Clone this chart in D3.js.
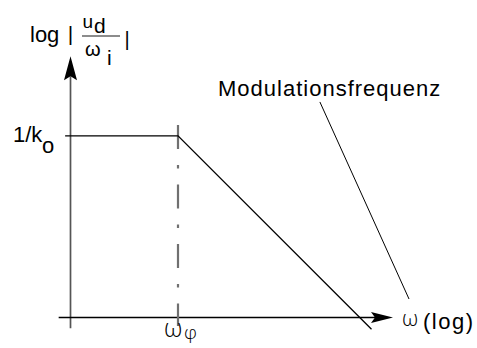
<!DOCTYPE html>
<html>
<head>
<meta charset="utf-8">
<script src="https://cdn.jsdelivr.net/npm/d3@7"></script>
<style>
  html, body { margin: 0; padding: 0; background: #fff; }
  svg { display: block; }
  text { font-family: "Liberation Sans", Arial, sans-serif; fill: #000; }
  .thin { font-family: "Open Sans", "DejaVu Sans", sans-serif; font-weight: 300; }
</style>
</head>
<body>
<script>
// Asymptotic amplitude response of the loop (log-log axes, arbitrary decades)
const curveLogW   = [-0.05, 1.0, 2.80];   // log ω at the curve's corners
const curveLogMag = [1.69, 1.69, -0.11];  // log |u_d / ω_i| at those corners
const cornerLogW  = 1.0;                  // ω_φ, the corner frequency
const levelLogMag = 1.69;                 // 1/k_o, the low-frequency plateau
const xAxisSpan   = [-0.11, 3.0];         // extent of the ω axis
const yAxisSpan   = [-0.10, 2.43];        // extent of the magnitude axis
const cornerSpan  = [1.79, -0.08];        // dash-dot marker at ω_φ
const leaderFrom  = [2.32, 2.005];        // annotation leader: text end
const leaderTo    = [3.149, 0.172];       // annotation leader: near the ω label
const labels = {
  level: ["1/k", "o"],
  corner: ["ω", "φ"],
  xName: ["ω", "(log)"],
  note: "Modulationsfrequenz"
};

const W = 477, H = 348;
const svg = d3.select("body").append("svg").attr("width", W).attr("height", H);
// grayscale antialiasing for the thin glyphs
const root = svg.append("g").attr("opacity", 0.999);

// Same pixel length per decade on both axes, so a -1 slope draws at 45°
const unit = 107.5;
const x = d3.scaleLinear().domain([0, 1]).range([70.5, 70.5 + unit]);
const y = d3.scaleLinear().domain([0, 1]).range([317.5, 317.5 - unit]);

// Axes
root.append("line")
  .attr("x1", x(0)).attr("x2", x(0))
  .attr("y1", y(yAxisSpan[0])).attr("y2", y(yAxisSpan[1]) + 20)
  .attr("stroke", "#555").attr("stroke-width", 1.7);
root.append("line")
  .attr("x1", x(xAxisSpan[0])).attr("x2", x(xAxisSpan[1]) - 18)
  .attr("y1", y(0)).attr("y2", y(0))
  .attr("stroke", "#000").attr("stroke-width", 1.4);

// Arrowheads
function arrow(tx, ty, dx, dy, len, half, notch) {
  const px = -dy, py = dx;
  const bx = tx - dx * len, by = ty - dy * len;
  const nx = tx - dx * (len - notch), ny = ty - dy * (len - notch);
  return `M${tx},${ty}L${bx + px * half},${by + py * half}L${nx},${ny}L${bx - px * half},${by - py * half}Z`;
}
root.append("path").attr("d", arrow(x(0), y(yAxisSpan[1]), 0, -1, 24, 6.5, 4)).attr("fill", "#000");
root.append("path").attr("d", arrow(x(xAxisSpan[1]), y(0), 1, 0, 22, 5.5, 4)).attr("fill", "#000");

// Dash-dot marker at the corner frequency
root.append("line")
  .attr("x1", x(cornerLogW)).attr("x2", x(cornerLogW))
  .attr("y1", y(cornerSpan[0])).attr("y2", y(cornerSpan[1]))
  .attr("stroke", "#707070").attr("stroke-width", 2.2)
  .attr("stroke-dasharray", "24 16 3.5 16");

// Amplitude response
const pts = curveLogW.map((w, i) => [w, curveLogMag[i]]);
root.append("path")
  .attr("d", d3.line().x(d => x(d[0])).y(d => y(d[1]))(pts))
  .attr("fill", "none").attr("stroke", "#000").attr("stroke-width", 1.3);

// Annotation leader
root.append("line")
  .attr("x1", x(leaderFrom[0])).attr("y1", y(leaderFrom[1]))
  .attr("x2", x(leaderTo[0])).attr("y2", y(leaderTo[1]))
  .attr("stroke", "#000").attr("stroke-width", 1);

// Y axis title: log | u_d / ω_i |
const yt = root.append("g");
yt.append("text").attr("x", 30).attr("y", 42).attr("font-size", 22).text("log");
yt.append("text").attr("x", x(0)).attr("y", 41).attr("font-size", 21).attr("text-anchor", "middle").text("|");
yt.append("text").attr("x", 82.5).attr("y", 28).attr("font-size", 19).text("u");
yt.append("text").attr("x", 94).attr("y", 32.5).attr("font-size", 21).text("d");
yt.append("line").attr("x1", 82).attr("x2", 120).attr("y1", 36).attr("y2", 36)
  .attr("stroke", "#666").attr("stroke-width", 1.5);
yt.append("text").attr("x", 85).attr("y", 56).attr("font-size", 20).attr("fill", "#222").text("ω");
yt.append("text").attr("x", 107).attr("y", 65).attr("font-size", 21).text("i");
yt.append("text").attr("x", 127).attr("y", 46).attr("font-size", 20).attr("text-anchor", "middle").text("|");

// Plateau label 1/k_o
const lv = root.append("g");
lv.append("text").attr("x", 13).attr("y", y(levelLogMag) + 6).attr("font-size", 22).text(labels.level[0]);
lv.append("text").attr("x", 42).attr("y", y(levelLogMag) + 17).attr("font-size", 22).text(labels.level[1]);

// Corner frequency label ω_φ
root.append("text").attr("class", "thin").attr("x", x(cornerLogW) - 14).attr("y", 337).attr("font-size", 25).text(labels.corner[0]);
root.append("text").attr("class", "thin").attr("x", x(cornerLogW) + 6).attr("y", 339).attr("font-size", 19).text(labels.corner[1]);

// Frequency axis name
root.append("text").attr("class", "thin").attr("x", 402).attr("y", 326).attr("font-size", 22).text(labels.xName[0]);
root.append("text").attr("x", 423).attr("y", 328.5).attr("font-size", 22).attr("letter-spacing", 1.5).text(labels.xName[1]);

// Annotation text
root.append("text").attr("x", 218).attr("y", 96).attr("font-size", 22).attr("letter-spacing", 1).text(labels.note);
</script>
</body>
</html>
